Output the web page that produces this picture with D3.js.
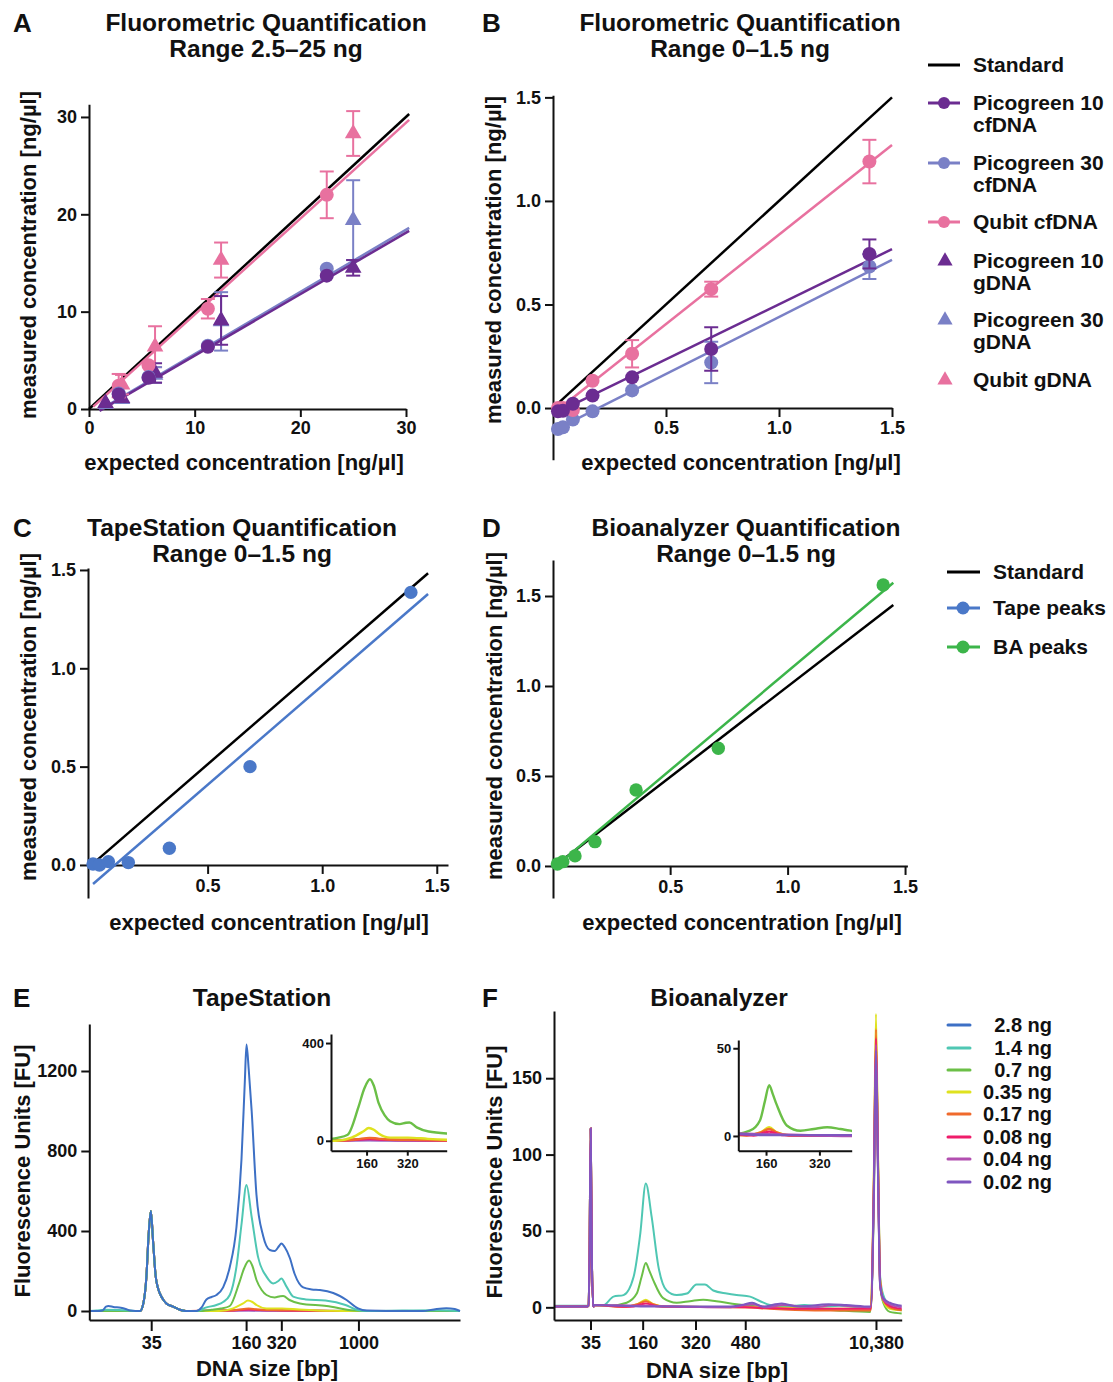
<!DOCTYPE html>
<html><head><meta charset="utf-8">
<script src="https://cdn.jsdelivr.net/npm/d3@7"></script>
<style>body{margin:0;background:#fff}</style>
</head><body><svg id="c" width="1113" height="1382"></svg>
<script>
// ---------- DATA ----------
// Panel A (2.5–25 ng)
const aCfX = [2.81, 5.63, 11.25, 22.5];
const aGX = [1.5625, 3.125, 6.25, 12.5, 25];
const aPico10CfY = [1.5, 3.2, 6.4, 13.7];
const aPico10CfErr = [0.2, 0.3, 0.3, 0.3];
const aPico30CfY = [1.6, 3.3, 6.5, 14.4];
const aPico30CfErr = [0.2, 0.3, 0.3, 0.3];
const aQubitCfY = [2.4, 4.5, 10.3, 22.0];
const aQubitCfErr = [1.2, 0.6, 1.0, 2.4];
const aPico10GY = [0.6, 1.1, 3.7, 9.1, 14.5];
const aPico10GErr = [0.1, 0.3, 1.0, 2.5, 0.8];
const aPico30GY = [0.5, 1.0, 3.5, 9.0, 19.4];
const aPico30GErr = [0.1, 0.2, 0.8, 3.0, 4.1];
const aQubitGY = [0.5, 2.5, 6.4, 15.3, 28.3];
const aQubitGErr = [0.2, 1.0, 2.1, 1.8, 2.3];
const aFitStandard = [[0, 0], [30.3, 30.3]];
const aFitPico10 = [[1.0, -0.2], [30.3, 18.3]];
const aFitPico30 = [[1.0, -0.1], [30.3, 18.6]];
const aFitQubit = [[0.4, 0.25], [30.3, 29.7]];
const aXTicks = [0, 10, 20, 30];
const aYTicks = [0, 10, 20, 30];

// Panel B (0–1.5 ng)
const bX = [0.022, 0.044, 0.088, 0.175, 0.35, 0.7, 1.4];
const bQubitY = [0.0, 0.0, -0.01, 0.132, 0.262, 0.574, 1.19];
const bQubitErr = [0.01, 0.01, 0.01, 0.01, 0.066, 0.036, 0.105];
const bPico10Y = [-0.016, -0.013, 0.021, 0.06, 0.148, 0.285, 0.744];
const bPico10Err = [0.01, 0.01, 0.01, 0.01, 0.015, 0.105, 0.07];
const bPico30Y = [-0.101, -0.093, -0.056, -0.016, 0.085, 0.22, 0.683];
const bPico30Err = [0.01, 0.01, 0.01, 0.01, 0.01, 0.1, 0.06];
const bFitStandard = [[0.01, 0.01], [1.5, 1.5]];
const bFitQubit = [[0.02, -0.01], [1.5, 1.27]];
const bFitPico10 = [[0.02, -0.02], [1.5, 0.767]];
const bFitPico30 = [[0.02, -0.1], [1.5, 0.715]];
const bXTicks = [0.5, 1.0, 1.5];
const bYTicks = [0.0, 0.5, 1.0, 1.5];

// Panel C (TapeStation)
const cX = [0.0, 0.028, 0.067, 0.154, 0.333, 0.685, 1.387];
const cY = [0.005, 0.0, 0.017, 0.012, 0.085, 0.5, 1.386];
const cFitStandard = [[0.01, 0.017], [1.462, 1.483]];
const cFitTape = [[0.0, -0.097], [1.462, 1.378]];

// Panel D (Bioanalyzer)
const dX = [0.02, 0.043, 0.095, 0.18, 0.355, 0.705, 1.407];
const dY = [0.011, 0.024, 0.056, 0.135, 0.422, 0.654, 1.561];
const dFitStandard = [[0.028, 0.019], [1.45, 1.45]];
const dFitBA = [[0.02, 0.006], [1.45, 1.574]];
const cdXTicks = [0.5, 1.0, 1.5];
const cdYTicks = [0.0, 0.5, 1.0, 1.5];

// Panel E/F series
const seriesNames = ["2.8 ng", "1.4 ng", "0.7 ng", "0.35 ng", "0.17 ng", "0.08 ng", "0.04 ng", "0.02 ng"];
const seriesColors = ["#3d70c5", "#4fc7b3", "#6bbf47", "#dfe21f", "#f06a2c", "#ef1c6a", "#b24fb0", "#7f56c0"];

// Panel E (TapeStation electropherogram), x = migration position (0–100)
const eTickPos = [16.7, 42.3, 51.8, 72.6];
const eTickLabels = ["35", "160", "320", "1000"];
const eYTicks = [0, 400, 800, 1200];
const eMarker35 = [[13.7,0],[14.6,40],[15.4,170],[16.0,380],[16.6,500],[17.2,350],[17.9,175],[18.6,110],[19.1,85],[20.0,55],[20.8,38],[22.6,22],[24.4,6],[26.0,0]];
const eBluePre = [[0,0],[2,0],[3.6,3],[4.5,22],[5.2,25],[6.5,20],[8.5,16],[9.8,10],[11,2],[12.5,0]];
const eBluePost = [[27,0],[28.9,0],[30.3,18],[31.6,58],[33.0,70],[34.3,80],[36.1,118],[37.9,220],[39.7,420],[41.06,760],[41.96,1150],[42.4,1332],[43.0,1210],[43.8,1000],[45.1,580],[46.9,375],[48.7,305],[50.0,300],[51.2,325],[51.8,338],[52.7,320],[54.1,265],[55.4,185],[57.7,118],[60,108],[62.2,105],[65.8,90],[69.4,55],[72.5,13],[74.8,2],[80,0],[90,0],[93,8],[96.3,14],[98.6,10],[100,0]];
const eTealPre = [[0,0],[2,2],[4,6],[8,5],[11,2],[12.5,0]];
const eTealPost = [[27,0],[29,0],[31.6,18],[34.3,30],[36.1,45],[37.9,80],[39.7,222],[41.1,440],[42.4,630],[43.8,470],[45.5,272],[47.8,172],[49.6,138],[51.0,150],[51.8,163],[53.2,122],[55,72],[58.4,58],[63.7,52],[69.1,30],[72.3,5],[75,0],[94,4],[100,0]];
const eGreenPost = [[27,0],[29.5,0],[33,6],[35.5,12],[37.9,25],[40.4,138],[41.8,215],[43.1,252],[44,225],[45.1,155],[46.5,105],[47.8,80],[50,68],[51.5,74],[52.3,75],[54,55],[56.8,38],[64,25],[71.3,2],[74,0],[100,0]];
const eYellowPost = [[27,0],[35,0],[38.8,13],[41.5,38],[42.8,52],[44.0,45],[45.1,30],[47.8,13],[52,13],[56.6,8],[65.8,1],[70,0],[100,0]];
const eOrangePost = [[27,0],[37,2],[40,6],[43,12],[45,9],[48,5],[53,4],[60,2],[70,0],[100,0]];
const eRedPost = [[27,0],[38,2],[43,8],[46,5],[52,3],[62,1],[70,0],[100,0]];
const eMagentaPost = [[27,0],[43,4],[50,2],[65,0],[100,0]];
const ePurplePost = [[27,0],[43,2],[55,1],[100,0]];
const eFlatPre = [[0,0],[12.5,0]];
const eInsetTickPos = [42.3, 51.8];
const eInsetTickLabels = ["160", "320"];
const eInsetYTicks = [0, 400];

// Panel F (Bioanalyzer electropherogram)
const fTickPos = [10.5, 25.5, 40.7, 55.0, 92.6];
const fTickLabels = ["35", "160", "320", "480", "10,380"];
const fYTicks = [0, 50, 100, 150];
const fMarker35 = [[9.9,1],[10.2,30],[10.55,117],[10.9,30],[11.3,1.5]];
const fTeal = [[0,1],[9.5,1],[11.3,1.5],[14.2,1.5],[17.1,7],[20,8],[22.9,20],[24.8,48],[26.4,81],[28.1,59],[30,27],[32.4,11],[35.3,8],[38.2,9],[41,15],[43.4,15],[45.8,11],[49.7,9],[52.5,8],[56.4,7],[59.3,4],[62.1,1.5],[67,0.5],[72,1.5],[77,0.5],[82,1],[88,0],[91.2,0],[92.0,80],[92.6,175],[93.2,95],[93.8,20],[94.7,8],[96.6,1],[98.6,-1],[100,-2]];
const fGreen = [[0,0.5],[9.5,0.5],[11.3,0.5],[16,1],[20.9,3],[23.8,9],[25.2,20],[26.4,29],[27.4,24],[28.5,18],[31.4,6],[35.3,3],[39.1,4],[42.9,5],[46.7,4],[52.5,2],[62.1,0],[71.7,-0.6],[81.3,-2],[91.0,-3],[92.0,70],[92.6,170],[93.2,90],[93.8,15],[94.7,3],[96.6,-3],[100,-4]];
const fYellow = [[0,0.5],[9.5,0.5],[11.3,0.5],[20,0.5],[24,2],[26.4,5],[28.5,2],[32,0.5],[60,0],[80,-1],[91.1,-1],[92.0,90],[92.6,192],[93.2,100],[93.8,18],[94.7,4],[96.6,-1],[100,-2]];
const fOrange = [[0,0.5],[9.5,0.5],[11.3,0.5],[20,0.3],[24,2],[26.4,4],[28.5,2],[32,0.3],[55,0],[62,-1],[75,-2],[91.1,-2],[92.0,85],[92.6,182],[93.2,95],[93.8,18],[94.7,5],[96.6,0],[100,-2]];
const fRed = [[0,0.5],[9.5,0.5],[11.3,0.5],[22,0.3],[26.4,2.5],[30,0.5],[55,0],[70,-1],[91.1,-1],[92,80],[92.6,176],[93.2,90],[93.8,15],[94.7,5],[96.6,1],[100,-1]];
const fMagenta = [[0,0.5],[9.5,0.5],[11.3,0.5],[26.4,1],[50,0],[57,2],[61,0],[66,1.5],[75,0],[80,1.5],[91.1,0],[92,78],[92.6,172],[93.2,88],[93.8,14],[94.7,5],[96.6,2],[100,0]];
const fPurple = [[0,0.5],[9.5,0.5],[11.3,0.5],[26.4,0.5],[50,0.5],[54,1.5],[57,3],[60,0.5],[65.5,2.5],[70,0.5],[79,2],[84,1.5],[91.1,0.5],[92,75],[92.6,168],[93.2,85],[93.8,14],[94.7,6],[96.6,3],[100,1]];
const fInsetTickPos = [25.5, 40.7];
const fInsetTickLabels = ["160", "320"];
const fInsetYTicks = [0, 50];

// ---------- DRAWING ----------
const FONT = "'Liberation Sans', Arial, Helvetica, sans-serif";
const C = {std:"#000000", p10:"#6b2c91", p30:"#7a80c6", qubit:"#e8719f", tape:"#4a78c8", ba:"#3cb54a"};
const TITLE = 24.5, LAB = 22, TICK = 18, LETTER = 26;
const svg = d3.select("#c").attr("font-family", FONT);
svg.append("rect").attr("width",1113).attr("height",1382).attr("fill","#fff");

function txt(x, y, s, size, anchor, rot) {
  const t = svg.append("text").attr("x", x).attr("y", y).text(s)
    .attr("font-size", size).attr("font-weight", "bold").attr("fill", "#111")
    .attr("text-anchor", anchor || "start");
  if (rot) t.attr("transform", `rotate(-90,${x},${y})`);
  return t;
}
function styleAxis(g, fs) {
  g.select(".domain").attr("stroke", "#111").attr("stroke-width", 2);
  g.selectAll(".tick line").attr("stroke", "#111").attr("stroke-width", 2);
  g.selectAll(".tick text").attr("font-size", fs).attr("font-weight", "bold").attr("fill", "#111").attr("font-family", FONT);
}
function axes(x, y, o) {
  const gx = svg.append("g").attr("transform", `translate(0,${o.xAxisY})`)
    .call(d3.axisBottom(x).tickValues(o.xTicks).tickFormat(o.xFmt).tickSize(o.tx).tickPadding(o.px).tickSizeOuter(0));
  styleAxis(gx, o.fs);
  const gy = svg.append("g").attr("transform", `translate(${o.yAxisX},0)`)
    .call(d3.axisLeft(y).tickValues(o.yTicks).tickFormat(o.yFmt).tickSize(o.ty).tickPadding(o.py).tickSizeOuter(0));
  styleAxis(gy, o.fs);
}
function fitLine(x, y, pts, color, w) {
  svg.append("path").datum(pts).attr("fill","none").attr("stroke", color).attr("stroke-width", w || 2.5)
    .attr("d", d3.line().x(d => x(d[0])).y(d => y(d[1])));
}
const tri = d3.symbol().type(d3.symbolTriangle).size(120);
function points(x, y, xs, ys, errs, color, shape, r) {
  const g = svg.append("g");
  if (errs) {
    xs.forEach((xv, i) => {
      const e = errs[i]; if (!e) return;
      const cx = x(xv), y1 = y(ys[i] - e), y2 = y(ys[i] + e);
      if (Math.abs(y1 - y2) < 12) return;
      g.append("line").attr("x1",cx).attr("x2",cx).attr("y1",y1).attr("y2",y2).attr("stroke",color).attr("stroke-width",2);
      [y1, y2].forEach(yy => g.append("line").attr("x1",cx-7).attr("x2",cx+7).attr("y1",yy).attr("y2",yy).attr("stroke",color).attr("stroke-width",2));
    });
  }
  xs.forEach((xv, i) => {
    if (shape === "tri") g.append("path").attr("d", tri).attr("transform", `translate(${x(xv)},${y(ys[i])})`).attr("fill", color);
    else g.append("circle").attr("cx", x(xv)).attr("cy", y(ys[i])).attr("r", r || 7).attr("fill", color);
  });
}
const f1 = d3.format(".1f"), f0 = d3.format("d");

// ----- Panel A -----
{
  const x = d3.scaleLinear().domain([0, 30]).range([89, 406]);
  const y = d3.scaleLinear().domain([0, 31.3]).range([409, 104.3]);
  axes(x, y, {xAxisY:409, yAxisX:89, xTicks:aXTicks, yTicks:aYTicks, xFmt:f0, yFmt:f0, tx:8, px:4, ty:8, py:4, fs:TICK});
  fitLine(x, y, aFitStandard, C.std);
  fitLine(x, y, aFitQubit, C.qubit);
  fitLine(x, y, aFitPico30, C.p30);
  fitLine(x, y, aFitPico10, C.p10);
  points(x, y, aGX, aQubitGY, aQubitGErr, C.qubit, "tri");
  points(x, y, aGX, aPico30GY, aPico30GErr, C.p30, "tri");
  points(x, y, aGX, aPico10GY, aPico10GErr, C.p10, "tri");
  points(x, y, aCfX, aQubitCfY, aQubitCfErr, C.qubit, "circle");
  points(x, y, aCfX, aPico30CfY, aPico30CfErr, C.p30, "circle");
  points(x, y, aCfX, aPico10CfY, aPico10CfErr, C.p10, "circle");
  txt(13, 32, "A", LETTER);
  txt(266, 31, "Fluorometric Quantification", TITLE, "middle");
  txt(266, 57, "Range 2.5–25 ng", TITLE, "middle");
  txt(244, 470, "expected concentration [ng/µl]", LAB, "middle");
  txt(36, 255, "measured concentration [ng/µl]", LAB, "middle", true);
}
// ----- Panel B -----
{
  const x = d3.scaleLinear().domain([0, 1.5]).range([553, 892]);
  const y = d3.scaleLinear().domain([-0.25, 1.51]).range([459.8, 95.3]);
  axes(x, y, {xAxisY:y(0), yAxisX:553, xTicks:bXTicks, yTicks:bYTicks, xFmt:f1, yFmt:f1, tx:9, px:4, ty:8, py:4, fs:TICK});
  fitLine(x, y, bFitStandard, C.std);
  fitLine(x, y, bFitQubit, C.qubit);
  fitLine(x, y, bFitPico30, C.p30);
  fitLine(x, y, bFitPico10, C.p10);
  points(x, y, bX, bPico30Y, bPico30Err, C.p30, "circle");
  points(x, y, bX, bQubitY, bQubitErr, C.qubit, "circle");
  points(x, y, bX, bPico10Y, bPico10Err, C.p10, "circle");
  txt(482, 32, "B", LETTER);
  txt(740, 31, "Fluorometric Quantification", TITLE, "middle");
  txt(740, 57, "Range 0–1.5 ng", TITLE, "middle");
  txt(741, 470, "expected concentration [ng/µl]", LAB, "middle");
  txt(501, 260, "measured concentration [ng/µl]", LAB, "middle", true);
}
// ----- Legend A/B -----
{
  const items = [
    {l:["Standard"], c:C.std, sym:"line", y:65},
    {l:["Picogreen 10","cfDNA"], c:C.p10, sym:"lc", y:103},
    {l:["Picogreen 30","cfDNA"], c:C.p30, sym:"lc", y:163},
    {l:["Qubit cfDNA"], c:C.qubit, sym:"lc", y:222},
    {l:["Picogreen 10","gDNA"], c:C.p10, sym:"tri", y:261},
    {l:["Picogreen 30","gDNA"], c:C.p30, sym:"tri", y:320},
    {l:["Qubit gDNA"], c:C.qubit, sym:"tri", y:380}
  ];
  items.forEach(it => {
    if (it.sym !== "tri") svg.append("line").attr("x1",928).attr("x2",960).attr("y1",it.y).attr("y2",it.y).attr("stroke",it.c).attr("stroke-width",3);
    if (it.sym === "lc") svg.append("circle").attr("cx",944).attr("cy",it.y).attr("r",6).attr("fill",it.c);
    if (it.sym === "tri") svg.append("path").attr("d", d3.symbol().type(d3.symbolTriangle).size(100)).attr("transform",`translate(945,${it.y})`).attr("fill",it.c);
    it.l.forEach((s, k) => txt(973, it.y + 7 + k * 22, s, 21));
  });
}
// ----- Panel C -----
{
  const x = d3.scaleLinear().domain([-0.022, 1.549]).range([88, 448]);
  const y = d3.scaleLinear().domain([-0.168, 1.51]).range([898, 568]);
  axes(x, y, {xAxisY:y(0), yAxisX:88, xTicks:cdXTicks, yTicks:cdYTicks, xFmt:f1, yFmt:f1, tx:9, px:5, ty:8, py:4, fs:TICK});
  fitLine(x, y, cFitStandard, C.std);
  fitLine(x, y, cFitTape, C.tape);
  points(x, y, cX, cY, null, C.tape, "circle", 6.7);
  txt(13, 537, "C", LETTER);
  txt(242, 536, "TapeStation Quantification", TITLE, "middle");
  txt(242, 562, "Range 0–1.5 ng", TITLE, "middle");
  txt(269, 930, "expected concentration [ng/µl]", LAB, "middle");
  txt(36, 717, "measured concentration [ng/µl]", LAB, "middle", true);
}
// ----- Panel D -----
{
  const x = d3.scaleLinear().domain([0, 1.51]).range([552.7, 907.4]);
  const y = d3.scaleLinear().domain([-0.178, 1.7]).range([898, 560]);
  axes(x, y, {xAxisY:y(0), yAxisX:553, xTicks:cdXTicks, yTicks:cdYTicks, xFmt:f1, yFmt:f1, tx:9, px:5, ty:8, py:4, fs:TICK});
  fitLine(x, y, dFitStandard, C.std);
  fitLine(x, y, dFitBA, C.ba);
  points(x, y, dX, dY, null, C.ba, "circle", 6.7);
  txt(482, 537, "D", LETTER);
  txt(746, 536, "Bioanalyzer Quantification", TITLE, "middle");
  txt(746, 562, "Range 0–1.5 ng", TITLE, "middle");
  txt(742, 930, "expected concentration [ng/µl]", LAB, "middle");
  txt(502, 716, "measured concentration [ng/µl]", LAB, "middle", true);
  const lg = [{l:"Standard", c:C.std, dot:false, y:572}, {l:"Tape peaks", c:C.tape, dot:true, y:608}, {l:"BA peaks", c:C.ba, dot:true, y:647}];
  lg.forEach(it => {
    svg.append("line").attr("x1",947).attr("x2",980).attr("y1",it.y).attr("y2",it.y).attr("stroke",it.c).attr("stroke-width",3);
    if (it.dot) svg.append("circle").attr("cx",963).attr("cy",it.y).attr("r",6.5).attr("fill",it.c);
    txt(993, it.y + 7, it.l, 21);
  });
}
// ----- Electropherograms -----
function curves(x, y, list, clipId, rect) {
  svg.append("clipPath").attr("id", clipId).append("rect").attr("x", rect[0]).attr("y", rect[1]).attr("width", rect[2]).attr("height", rect[3]);
  const g = svg.append("g").attr("clip-path", `url(#${clipId})`);
  const line = d3.line().x(d => x(d[0])).y(d => y(d[1])).curve(d3.curveMonotoneX);
  list.forEach(s => g.append("path").datum(s.pts).attr("fill","none").attr("stroke", s.c).attr("stroke-width", s.w || 2).attr("d", line));
}
const byPos = (a, b) => a[0] - b[0];
const eSeries = [
  {pts: eBluePre.concat(eMarker35, eBluePost).sort(byPos), c: seriesColors[0]},
  {pts: eTealPre.concat(eMarker35, eTealPost).sort(byPos), c: seriesColors[1]},
  {pts: eFlatPre.concat(eMarker35, eGreenPost).sort(byPos), c: seriesColors[2]},
  {pts: eFlatPre.concat(eMarker35, eYellowPost).sort(byPos), c: seriesColors[3]},
  {pts: eFlatPre.concat(eMarker35, eOrangePost).sort(byPos), c: seriesColors[4]},
  {pts: eFlatPre.concat(eMarker35, eRedPost).sort(byPos), c: seriesColors[5]},
  {pts: eFlatPre.concat(eMarker35, eMagentaPost).sort(byPos), c: seriesColors[6]},
  {pts: eFlatPre.concat(eMarker35, ePurplePost).sort(byPos), c: seriesColors[7]}
];
const fRaw = [null, fTeal, fGreen, fYellow, fOrange, fRed, fMagenta, fPurple];
const fSeries = [];
fRaw.forEach((a, i) => { if (a) fSeries.push({pts: a.concat(fMarker35).sort(byPos), c: seriesColors[i]}); });

// Panel E
{
  const x = d3.scaleLinear().domain([0, 100]).range([89.3, 460]);
  const y = d3.scaleLinear().domain([-45, 1435]).range([1320, 1024]);
  curves(x, y, eSeries.slice().reverse(), "clipE", [89, 1020, 372, 300]);
  axes(x, y, {xAxisY:1320, yAxisX:89.3, xTicks:eTickPos, yTicks:eYTicks, xFmt:(d,i)=>eTickLabels[i], yFmt:f0, tx:11, px:5, ty:8, py:4, fs:TICK});
  const xi = d3.scaleLinear().domain([34, 61]).range([331, 446.7]);
  const yi = d3.scaleLinear().domain([-40.6, 437]).range([1150.7, 1034]);
  curves(xi, yi, eSeries.slice(2).reverse().map(s => ({pts:s.pts, c:s.c, w:2.4})), "clipEi", [331, 1030, 116, 120]);
  axes(xi, yi, {xAxisY:1150.7, yAxisX:331, xTicks:eInsetTickPos, yTicks:eInsetYTicks, xFmt:(d,i)=>eInsetTickLabels[i], yFmt:f0, tx:5, px:3, ty:5, py:2, fs:13});
  txt(13, 1007, "E", LETTER);
  txt(262, 1006, "TapeStation", TITLE, "middle");
  txt(267, 1376, "DNA size [bp]", LAB, "middle");
  txt(30, 1171, "Fluorescence Units [FU]", LAB, "middle", true);
}
// Panel F
{
  const x = d3.scaleLinear().domain([0, 100]).range([554, 901.7]);
  const y = d3.scaleLinear().domain([-8.3, 194]).range([1320, 1011]);
  curves(x, y, fSeries, "clipF", [554, 1005, 348, 315]);
  axes(x, y, {xAxisY:1320, yAxisX:554, xTicks:fTickPos, yTicks:fYTicks, xFmt:(d,i)=>fTickLabels[i], yFmt:f0, tx:10, px:6, ty:8, py:4, fs:TICK});
  const xi = d3.scaleLinear().domain([17.6, 49.9]).range([738.3, 851.7]);
  const yi = d3.scaleLinear().domain([-8.4, 54.7]).range([1150.7, 1040]);
  curves(xi, yi, fSeries.slice(1).map(s => ({pts:s.pts, c:s.c, w:2.4})), "clipFi", [738, 1036, 114, 115]);
  axes(xi, yi, {xAxisY:1150.7, yAxisX:738.3, xTicks:fInsetTickPos, yTicks:fInsetYTicks, xFmt:(d,i)=>fInsetTickLabels[i], yFmt:f0, tx:5, px:3, ty:5, py:2, fs:13});
  txt(482, 1007, "F", LETTER);
  txt(719, 1006, "Bioanalyzer", TITLE, "middle");
  txt(717, 1378, "DNA size [bp]", LAB, "middle");
  txt(502, 1172, "Fluorescence Units [FU]", LAB, "middle", true);
}
// Legend E/F
{
  const ys = [1025, 1048, 1070, 1092, 1114, 1137, 1159, 1182];
  seriesNames.forEach((n, i) => {
    svg.append("line").attr("x1",948).attr("x2",970).attr("y1",ys[i]).attr("y2",ys[i]).attr("stroke",seriesColors[i]).attr("stroke-width",3).attr("stroke-linecap","round");
    txt(1052, ys[i] + 7, n, 20, "end");
  });
}
</script></body></html>
